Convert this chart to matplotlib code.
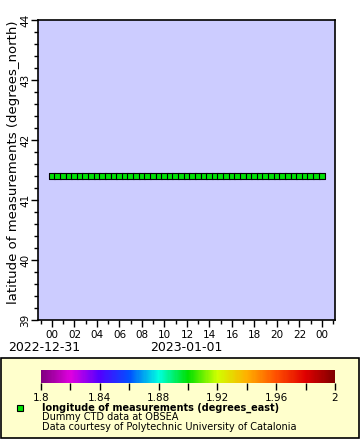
import numpy as np
import matplotlib
matplotlib.use("Agg")
import matplotlib.pyplot as plt
import matplotlib.dates as mdates
from matplotlib.colors import LinearSegmentedColormap, Normalize
from matplotlib.patches import Rectangle
from matplotlib.lines import Line2D
import matplotlib.colorbar as mcolorbar
import datetime as dt

# ---- data ----
times = [dt.datetime(2023, 1, 1) + dt.timedelta(minutes=30 * i) for i in range(49)]
latitude = [41.4] * 49
longitude = [1.9] * 49
cbar_ticks = [1.8, 1.84, 1.88, 1.92, 1.96, 2.0]
cbar_labels = ["1.8", "1.84", "1.88", "1.92", "1.96", "2"]
y_ticks = [39, 40, 41, 42, 43, 44]
date_labels = ["2022-12-31", "2023-01-01"]
legend_lines = ["longitude of measurements (degrees_east)",
                "Dummy CTD data at OBSEA",
                "Data courtesy of Polytechnic University of Catalonia"]

plt.rcParams['font.family'] = ['DejaVu Sans']

W, H = 360, 440
fig = plt.figure(figsize=(W / 100, H / 100), dpi=100)
fig.patch.set_facecolor("white")

def fx(px):
    return px / W

def fy(py):
    return 1 - py / H

cmap = LinearSegmentedColormap.from_list("rainbow2", [
    (0.00, "#800080"),
    (0.10, "#e000e0"),
    (0.20, "#5000ff"),
    (0.30, "#0050ff"),
    (0.40, "#00ffe0"),
    (0.50, "#00e000"),
    (0.60, "#d0ff00"),
    (0.70, "#ffb000"),
    (0.80, "#ff5000"),
    (0.90, "#e00000"),
    (1.00, "#800000"),
])
norm = Normalize(1.8, 2.0)

# ---- legend box (background) ----
bg_ax = fig.add_axes([0, 0, 1, 1], facecolor="none", zorder=-5)
bg_ax.set_xlim(0, W)
bg_ax.set_ylim(H, 0)
bg_ax.axis("off")
bg_ax.add_patch(Rectangle((1, 358), 358, 80, facecolor="#ffffcc",
                          edgecolor="black", linewidth=1.2))

# ---- main axes ----
ax = fig.add_axes([fx(38), fy(320), fx(335) - fx(38), fy(20) - fy(320)])
ax.set_facecolor("#ccccff")
t0 = mdates.date2num(dt.datetime(2023, 1, 1))
ax.set_xlim(t0 - 1.24 / 24, t0 + 25.16 / 24)
ax.set_ylim(39, 44)

ax.scatter(times, latitude, c=longitude, cmap=cmap, norm=norm, marker="s",
           s=22, edgecolors="black", linewidths=0.8, zorder=3)

ax.xaxis.set_major_locator(mdates.HourLocator(byhour=range(0, 24, 2)))
ax.xaxis.set_minor_locator(mdates.HourLocator())
ax.xaxis.set_major_formatter(mdates.DateFormatter("%H"))
ax.set_yticks(y_ticks)
ax.set_yticklabels([str(v) for v in y_ticks], rotation=90, va="center")
ax.yaxis.set_minor_locator(matplotlib.ticker.MultipleLocator(0.2))
ax.tick_params(axis="both", which="major", length=5, width=1, labelsize=7.5, direction="out", colors="black")
ax.tick_params(axis="both", which="minor", length=3, width=1, direction="out")
ax.tick_params(axis="y", pad=0.5)
ax.tick_params(axis="x", pad=2.5)
for s in ax.spines.values():
    s.set_linewidth(1.2)
ax.set_ylabel("latitude of measurements (degrees_north)", fontsize=9.5, va="center")
ax.yaxis.set_label_coords(-0.082, 0.525)

fig.text(fx(44), fy(347), date_labels[0], fontsize=9, ha="center", va="center")
fig.text(fx(186), fy(347), date_labels[1], fontsize=9, ha="center", va="center")

# ---- colorbar ----
cax = fig.add_axes([fx(41), fy(383), fx(335) - fx(41), fy(370) - fy(383)])
cb = mcolorbar.ColorbarBase(cax, cmap=cmap, norm=norm, orientation="horizontal")
cb.outline.set_visible(False)
cb.set_ticks(cbar_ticks)
cb.set_ticklabels(cbar_labels)
cax.xaxis.set_minor_locator(matplotlib.ticker.FixedLocator([1.82, 1.86, 1.90, 1.94, 1.98]))
cax.tick_params(axis="x", which="both", length=5, width=1, labelsize=7.5, pad=2)

# ---- legend entries ----
leg_ax = fig.add_axes([0, 0, 1, 1], facecolor="none")
leg_ax.set_xlim(0, W)
leg_ax.set_ylim(H, 0)
leg_ax.axis("off")
leg_ax.add_line(Line2D([20], [408], marker="s", markersize=4.5,
                       markerfacecolor=cmap(norm(longitude[0])),
                       markeredgecolor="black", markeredgewidth=0.8, linestyle="none"))
leg_ax.text(42, 408, legend_lines[0], fontsize=7, fontweight="bold", va="center", ha="left")
leg_ax.text(42, 417.5, legend_lines[1], fontsize=7, va="center", ha="left")
leg_ax.text(42, 427, legend_lines[2], fontsize=7, va="center", ha="left")

fig.savefig("out.png", dpi=100)
